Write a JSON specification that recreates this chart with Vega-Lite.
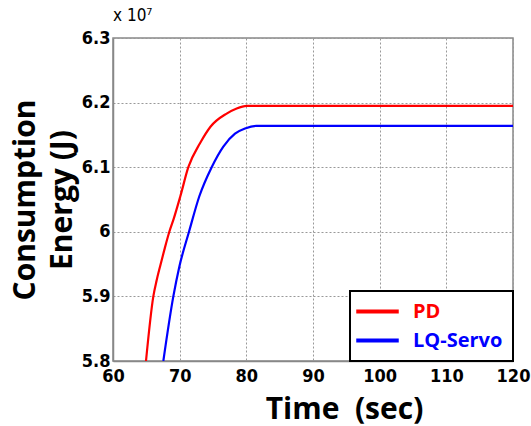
{
  "$schema": "https://vega.github.io/schema/vega-lite/v6.json",
  "width": 400,
  "height": 323,
  "autosize": {"type": "none"},
  "padding": {"left": 113, "top": 38, "right": 18, "bottom": 65},
  "background": "white",
  "title": {"text": "x 10⁷", "anchor": "start", "frame": "group", "font": "DejaVu Sans Condensed, Liberation Sans Narrow, Liberation Sans, sans-serif", "fontWeight": "normal", "fontSize": 17, "offset": 4, "color": "black"},
  "config": {
    "view": {"stroke": "#888888", "strokeWidth": 1.5}
  },
  "data": {"values": [
    {"controller": "PD", "time": 64.95, "energy": 58000000},
    {"controller": "PD", "time": 66.05, "energy": 59000000},
    {"controller": "PD", "time": 66.55, "energy": 59250000},
    {"controller": "PD", "time": 67.05, "energy": 59460000},
    {"controller": "PD", "time": 67.7, "energy": 59720000},
    {"controller": "PD", "time": 68.45, "energy": 60000000},
    {"controller": "PD", "time": 69.1, "energy": 60200000},
    {"controller": "PD", "time": 70.1, "energy": 60550000},
    {"controller": "PD", "time": 71.3, "energy": 61000000},
    {"controller": "PD", "time": 73.05, "energy": 61370000},
    {"controller": "PD", "time": 74.65, "energy": 61630000},
    {"controller": "PD", "time": 77.05, "energy": 61830000},
    {"controller": "PD", "time": 78.55, "energy": 61910000},
    {"controller": "PD", "time": 80.05, "energy": 61950000},
    {"controller": "PD", "time": 120, "energy": 61950000},
    {"controller": "LQ-Servo", "time": 67.55, "energy": 58000000},
    {"controller": "LQ-Servo", "time": 69.05, "energy": 59000000},
    {"controller": "LQ-Servo", "time": 69.95, "energy": 59460000},
    {"controller": "LQ-Servo", "time": 71.4, "energy": 60000000},
    {"controller": "LQ-Servo", "time": 72.95, "energy": 60550000},
    {"controller": "LQ-Servo", "time": 74.8, "energy": 61000000},
    {"controller": "LQ-Servo", "time": 76.55, "energy": 61320000},
    {"controller": "LQ-Servo", "time": 78.3, "energy": 61520000},
    {"controller": "LQ-Servo", "time": 79.8, "energy": 61600000},
    {"controller": "LQ-Servo", "time": 81.5, "energy": 61640000},
    {"controller": "LQ-Servo", "time": 120, "energy": 61640000}
  ]},
  "mark": {"type": "line", "strokeWidth": 2.2, "clip": true, "interpolate": "monotone"},
  "encoding": {
    "x": {
      "field": "time", "type": "quantitative",
      "scale": {"domain": [60, 120], "nice": false},
      "axis": {
        "values": [60, 70, 80, 90, 100, 110, 120],
        "grid": true, "gridDash": [2, 2], "gridColor": "#999999", "gridOpacity": 1,
        "domainColor": "#888888", "domainWidth": 1.5, "ticks": false,
        "labelFont": "DejaVu Sans Condensed, Liberation Sans Narrow, Liberation Sans, sans-serif", "labelFontWeight": "bold", "labelFontSize": 18, "labelColor": "black", "labelPadding": 6,
        "labelFlush": false,
        "title": "Time\u00a0 (sec)", "titleFont": "Open Sans", "titleFontSize": 30, "titleFontWeight": "bold", "titleColor": "black",
        "titleX": 231, "titleY": 57, "titleAlign": "center", "titleBaseline": "alphabetic"
      }
    },
    "y": {
      "field": "energy", "type": "quantitative",
      "scale": {"domain": [58000000, 63000000], "nice": false, "zero": false},
      "axis": {
        "values": [58000000, 59000000, 60000000, 61000000, 62000000, 63000000],
        "labelExpr": "format(datum.value / 10000000, '.2~g')",
        "grid": true, "gridDash": [2, 2], "gridColor": "#999999", "gridOpacity": 1,
        "domainColor": "#888888", "domainWidth": 1.5, "ticks": false,
        "labelFont": "DejaVu Sans Condensed, Liberation Sans Narrow, Liberation Sans, sans-serif", "labelFontWeight": "bold", "labelFontSize": 18, "labelColor": "black", "labelPadding": 3,
        "labelFlush": false,
        "title": ["Consumption", "Energy (J)"], "titleFont": "Open Sans", "titleFontSize": 30, "titleFontWeight": "bold", "titleColor": "black", "titlePadding": 4, "titleLineHeight": 37
      }
    },
    "color": {
      "field": "controller", "type": "nominal",
      "scale": {"domain": ["PD", "LQ-Servo"], "range": ["#ff0000", "#0000ff"]},
      "legend": {
        "title": null, "orient": "bottom-right", "offset": 0,
        "symbolType": "M-2.5,0H2.5", "symbolSize": 289, "symbolStrokeWidth": 4, "symbolOffset": 7,
        "labelFont": "Open Sans", "labelFontWeight": "bold", "labelFontSize": 20, "labelOffset": 25,
        "labelExpr": "datum.label + '\u00a0'",
        "rowPadding": 8, "padding": 10,
        "fillColor": "white", "strokeColor": "black",
        "encode": {
          "labels": {"update": {"fill": {"scale": "color", "field": "value"}}},
          "legend": {"update": {"strokeWidth": {"value": 2}}}
        }
      }
    }
  }
}
